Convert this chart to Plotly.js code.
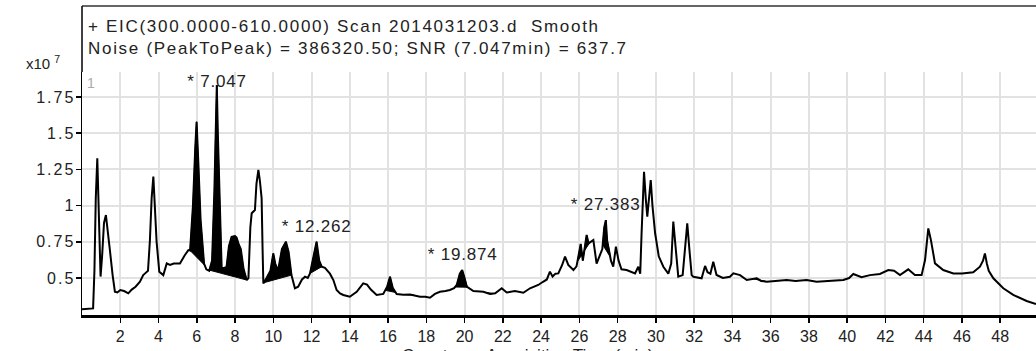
<!DOCTYPE html>
<html>
<head>
<meta charset="utf-8">
<script src="https://cdn.plot.ly/plotly-3.0.1.min.js"></script>
<style>
  html, body { margin: 0; padding: 0; background: #fff; }
  #chart { width: 1036px; height: 351px; }
  /* the instrument export uses wide-set type for headers and counts */
  .annotation[data-index="4"] text, .annotation[data-index="5"] text { letter-spacing: 1.7px; }
  .annotation[data-index="0"] text, .annotation[data-index="1"] text,
  .annotation[data-index="2"] text, .annotation[data-index="3"] text { letter-spacing: 0.8px; }
  .ytick text { letter-spacing: 2px; }
</style>
</head>
<body>
<div id="chart"></div>
<script>
// Extracted ion chromatogram, EIC(300-610), smoothed. Time in minutes, counts in units of 1e7.
const timeMin = [
  0.0, 0.3, 0.58, 0.65, 0.72, 0.80, 0.86, 0.92, 0.97, 1.05, 1.15, 1.25, 1.33, 1.46, 1.6, 1.72, 1.85,
  2.0, 2.2, 2.42, 2.6, 2.8, 3.03, 3.2, 3.3, 3.45, 3.55, 3.64, 3.73, 3.8, 3.9, 4.04, 4.25, 4.43, 4.6,
  4.8, 5.12, 5.38, 5.56, 5.65, 5.8, 5.92, 5.99, 6.08, 6.2, 6.38, 6.5, 6.65, 6.8, 6.92, 7.0, 7.047,
  7.1, 7.2, 7.3, 7.45, 7.56, 7.68, 7.82, 8.0, 8.08, 8.2, 8.3, 8.45, 8.61, 8.7, 8.8, 8.87, 9.04, 9.12,
  9.22, 9.3, 9.39, 9.44, 9.48, 9.65, 9.85, 10.0, 10.1, 10.25, 10.45, 10.66, 10.8, 10.95, 11.13, 11.3,
  11.5, 11.66, 11.8, 11.92, 12.1, 12.262, 12.4, 12.53, 12.7, 12.96, 13.14, 13.31, 13.49, 13.66, 14.0,
  14.36, 14.7, 14.9, 15.1, 15.4, 15.75, 15.95, 16.1, 16.25, 16.45, 16.8, 17.15, 17.4, 17.67, 17.95,
  18.19, 18.45, 18.71, 19.0, 19.23, 19.45, 19.59, 19.75, 19.874, 20.0, 20.11, 20.46, 20.75, 20.98,
  21.33, 21.6, 21.94, 22.2, 22.63, 23.07, 23.42, 23.85, 24.1, 24.3, 24.46, 24.6, 24.75, 24.9, 25.1,
  25.25, 25.42, 25.69, 25.85, 25.95, 26.07, 26.18, 26.3, 26.38, 26.48, 26.6, 26.73, 26.9, 27.05, 27.2,
  27.3, 27.383, 27.45, 27.55, 27.65, 27.77, 27.91, 28.05, 28.2, 28.47, 28.7, 28.91, 29.08, 29.18,
  29.25, 29.38, 29.47, 29.55, 29.64, 29.73, 29.82, 29.96, 30.15, 30.39, 30.65, 30.8, 30.91, 31.0,
  31.1, 31.17, 31.4, 31.52, 31.64, 31.75, 31.87, 31.96, 32.2, 32.39, 32.57, 32.7, 32.85, 33.0, 33.17,
  33.5, 33.87, 34.05, 34.4, 34.75, 35.27, 35.5, 35.79, 36.3, 36.84, 37.3, 37.88, 38.4, 39.1, 39.8,
  40.1, 40.32, 40.75, 41.19, 41.71, 42.15, 42.45, 42.76, 43.19, 43.54, 43.89, 44.07, 44.24, 44.38,
  44.59, 45.02, 45.55, 46.0, 46.59, 46.94, 47.1, 47.2, 47.3, 47.4, 47.64, 48.16, 48.68, 49.38, 49.87
];
const countsE7 = [
  0.285, 0.285, 0.29, 0.55, 1.05, 1.327, 1.0, 0.6, 0.51, 0.65, 0.88, 0.935, 0.85, 0.69, 0.52, 0.405, 0.40,
  0.417, 0.41, 0.394, 0.42, 0.44, 0.474, 0.52, 0.532, 0.55, 0.76, 1.05, 1.2, 1.0, 0.75, 0.544, 0.52, 0.601, 0.59,
  0.60, 0.60, 0.659, 0.693, 0.69, 1.0, 1.4, 1.579, 1.3, 0.9, 0.6, 0.56, 0.55, 0.62, 1.1, 1.6, 1.833,
  1.5, 0.95, 0.57, 0.57, 0.578, 0.72, 0.785, 0.79, 0.78, 0.73, 0.70, 0.56, 0.486, 0.50, 0.85, 0.947, 0.97, 1.15,
  1.246, 1.17, 1.05, 0.7, 0.463, 0.50, 0.55, 0.67, 0.60, 0.55, 0.70, 0.751, 0.68, 0.52, 0.429, 0.44,
  0.49, 0.509, 0.50, 0.532, 0.65, 0.751, 0.62, 0.578, 0.57, 0.53, 0.486, 0.417, 0.394, 0.383, 0.371,
  0.405, 0.463, 0.455, 0.42, 0.383, 0.39, 0.44, 0.509, 0.43, 0.39, 0.385, 0.386, 0.38, 0.37, 0.37,
  0.364, 0.39, 0.405, 0.41, 0.417, 0.43, 0.452, 0.53, 0.555, 0.50, 0.44, 0.41, 0.41, 0.405,
  0.39, 0.395, 0.429, 0.40, 0.41, 0.398, 0.429, 0.452, 0.474, 0.49, 0.544, 0.51, 0.53, 0.532, 0.59,
  0.648, 0.59, 0.555, 0.58, 0.648, 0.735, 0.62, 0.72, 0.797, 0.74, 0.75, 0.762, 0.60, 0.65, 0.70,
  0.85, 0.90, 0.76, 0.70, 0.62, 0.578, 0.716, 0.62, 0.56, 0.555, 0.54, 0.532, 0.578, 0.53,
  0.80, 1.234, 1.05, 0.923, 1.05, 1.177, 1.0, 0.809, 0.65, 0.578, 0.53, 0.60, 0.89, 0.75,
  0.56, 0.509, 0.52, 0.70, 0.878, 0.70, 0.52, 0.509, 0.50, 0.498, 0.583, 0.54, 0.53, 0.613, 0.521,
  0.50, 0.509, 0.532, 0.52, 0.486, 0.498, 0.48, 0.475, 0.48, 0.486, 0.48, 0.486, 0.475, 0.483, 0.486,
  0.50, 0.528, 0.505, 0.52, 0.528, 0.555, 0.55, 0.52, 0.56, 0.52, 0.52, 0.624, 0.843, 0.76,
  0.601, 0.555, 0.532, 0.532, 0.54, 0.578, 0.62, 0.67, 0.60, 0.55, 0.498, 0.429, 0.383, 0.341, 0.32
];

// Integrated peak windows [start, end] in minutes; the area above a straight baseline is filled.
const peakStart = [5.65, 6.50, 9.50, 11.92, 15.85, 17.00, 19.50, 21.10, 25.90, 27.22, 35.10];
const peakEnd   = [6.42, 8.61, 10.95, 12.53, 16.40, 17.35, 20.15, 21.50, 26.55, 27.62, 35.80];

// Labelled apex retention times
const labelTimes = [7.047, 12.262, 19.874, 27.383];

// Axis ticks
const xTicks = [2, 4, 6, 8, 10, 12, 14, 16, 18, 20, 22, 24, 26, 28, 30, 32, 34, 36, 38, 40, 42, 44, 46, 48];
const yTicks = [0.5, 0.75, 1, 1.25, 1.5, 1.75];
const yTickText = ['0.5', '0.75', '1', '1.25', '1.5', '1.75'];

const titleLine1 = '+ EIC(300.0000-610.0000) Scan 2014031203.d&nbsp;&nbsp;Smooth';
const titleLine2 = 'Noise (PeakToPeak) = 386320.50; SNR (7.047min) = 637.7';
const xTitle = 'Counts vs. Acquisition Time (min)';

function valueAt(t) {
  for (let i = 1; i < timeMin.length; i++) {
    if (t <= timeMin[i]) {
      const t0 = timeMin[i - 1], t1 = timeMin[i];
      const f = (t - t0) / (t1 - t0);
      return countsE7[i - 1] + f * (countsE7[i] - countsE7[i - 1]);
    }
  }
  return countsE7[countsE7.length - 1];
}

const traces = [];
const FONT = 'Arial, "Liberation Sans", sans-serif';

peakStart.forEach((s, k) => {
  const e = peakEnd[k];
  const xs = [s], ys = [valueAt(s)];
  timeMin.forEach((t, i) => { if (t > s && t < e) { xs.push(t); ys.push(countsE7[i]); } });
  xs.push(e); ys.push(valueAt(e));
  xs.push(s); ys.push(valueAt(s));
  traces.push({
    x: xs, y: ys, type: 'scatter', mode: 'lines', fill: 'toself',
    fillcolor: '#000', line: { color: '#000', width: 1 }, hoverinfo: 'skip', showlegend: false
  });
});

traces.push({
  x: timeMin, y: countsE7, type: 'scatter', mode: 'lines',
  line: { color: '#000', width: 2 }, showlegend: false
});

const annotations = labelTimes.map(t => ({
  x: t, y: Math.min(valueAt(t) + 0.105, 1.855), xref: 'x', yref: 'y',
  text: '* ' + t.toFixed(3), showarrow: false, xanchor: 'center', yanchor: 'middle',
  font: { family: FONT, size: 17, color: '#222' }
}));

annotations.push(
  { xref: 'paper', yref: 'paper', x: 0.004, y: 1.186, xanchor: 'left', yanchor: 'middle', align: 'left',
    text: titleLine1, showarrow: false, font: { family: FONT, size: 17, color: '#222' } },
  { xref: 'paper', yref: 'paper', x: 0.004, y: 1.097, xanchor: 'left', yanchor: 'middle', align: 'left',
    text: titleLine2, showarrow: false, font: { family: FONT, size: 17, color: '#222' } },
  { xref: 'paper', yref: 'paper', x: -0.021, y: 1.041, xanchor: 'right', yanchor: 'middle',
    text: 'x10 <sup>7</sup>', showarrow: false, font: { family: FONT, size: 15, color: '#222' } },
  { xref: 'paper', yref: 'paper', x: 0.003, y: 0.955, xanchor: 'left', yanchor: 'middle',
    text: '1', showarrow: false, font: { family: FONT, size: 14, color: '#aaa' } },
  { xref: 'paper', yref: 'paper', x: 0.4675, y: -0.168, xanchor: 'center', yanchor: 'middle',
    text: xTitle, showarrow: false, font: { family: FONT, size: 17, color: '#222' } }
);

const layout = {
  width: 1036, height: 351,
  margin: { l: 82, r: 0, t: 72, b: 36, pad: 0 },
  paper_bgcolor: '#fff', plot_bgcolor: '#fff',
  showlegend: false,
  font: { family: FONT, color: '#222' },
  xaxis: {
    range: [0, 49.87], tickvals: xTicks, ticks: 'outside', ticklen: 5, tickwidth: 1.5,
    tickcolor: '#000', showline: true, linecolor: '#000', linewidth: 3,
    showgrid: true, gridcolor: '#e2e2e2', gridwidth: 2, zeroline: false,
    tickfont: { family: FONT, size: 16, color: '#222' }, ticklabelstandoff: 0
  },
  yaxis: {
    range: [0.2445, 1.923], tickvals: yTicks, ticktext: yTickText, ticks: 'outside',
    ticklen: 5, tickwidth: 1.5, tickcolor: '#000', showline: true, linecolor: '#000',
    linewidth: 1.5, showgrid: true, gridcolor: '#e2e2e2', gridwidth: 2, zeroline: false,
    tickfont: { family: FONT, size: 16, color: '#222' }, ticklabelstandoff: -3
  },
  shapes: [
    { type: 'line', xref: 'paper', yref: 'paper', x0: 0, x1: 1, y0: 1.2716, y1: 1.2716,
      line: { color: '#666', width: 2 } },
    { type: 'line', xref: 'paper', yref: 'paper', x0: 0, x1: 0, y0: 1, y1: 1.2716,
      line: { color: '#000', width: 1.5 } }
  ],
  annotations: annotations
};

Plotly.newPlot('chart', traces, layout, { staticPlot: true, displayModeBar: false });
</script>
</body>
</html>
